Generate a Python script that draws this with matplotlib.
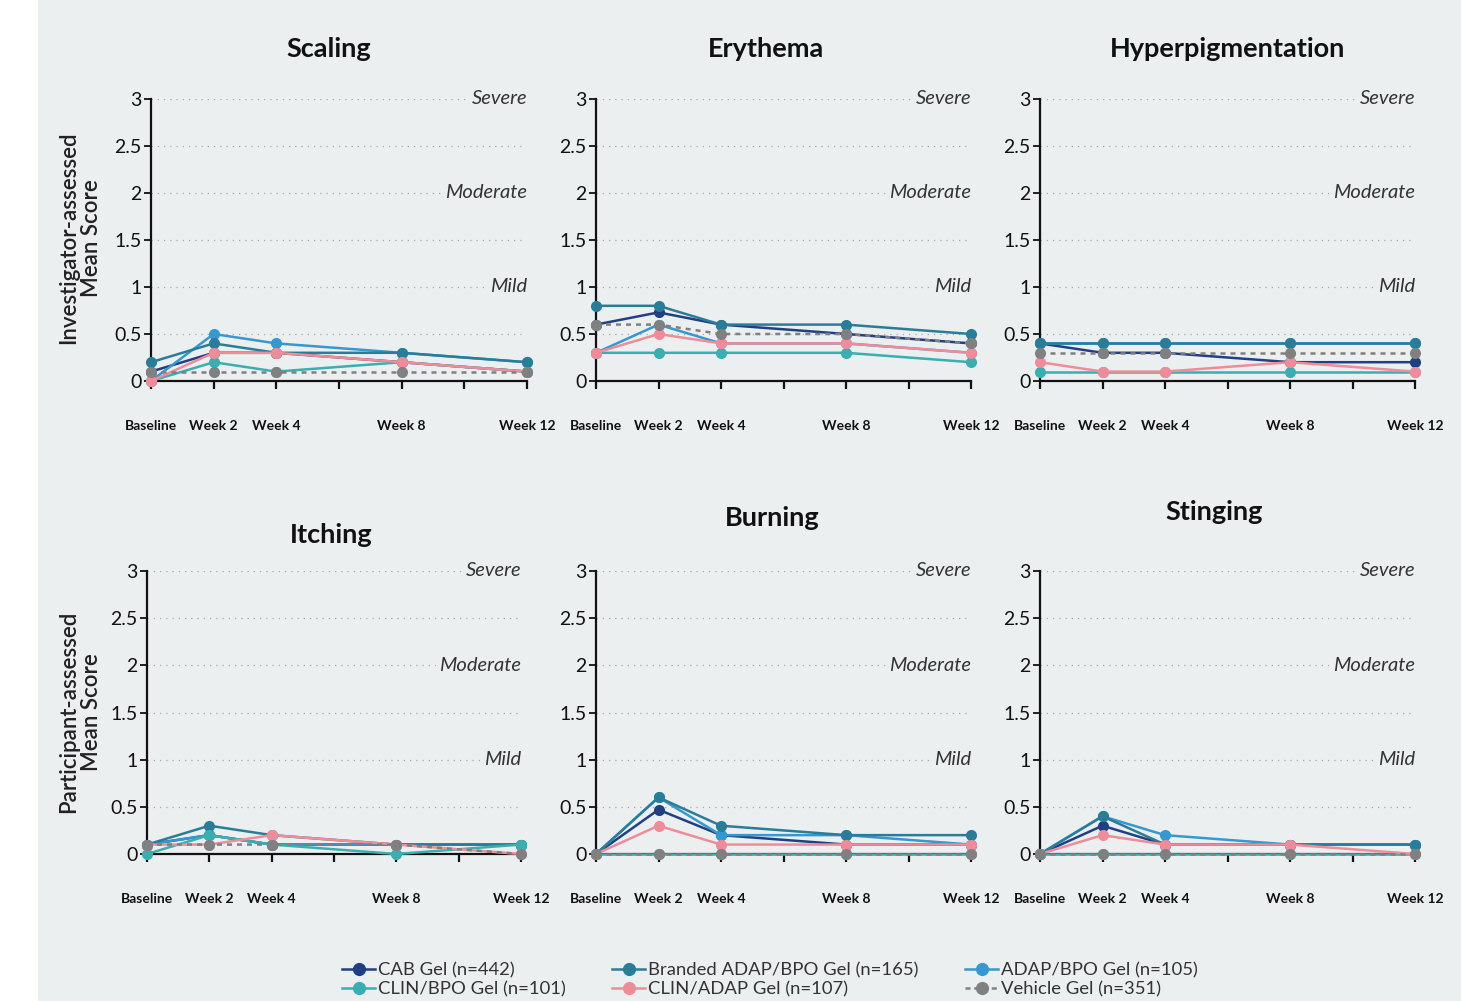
import matplotlib
matplotlib.use("Agg")
import matplotlib.pyplot as plt
from matplotlib.lines import Line2D
from matplotlib.patches import Rectangle

plt.rcParams['font.family'] = ['Lato', 'DejaVu Sans']

# visit weeks and their labels
weeks = [0, 2, 4, 8, 12]
week_labels = ['Baseline', 'Week 2', 'Week 4', 'Week 8', 'Week 12']

treatments = ['CAB Gel (n=442)', 'Branded ADAP/BPO Gel (n=165)', 'ADAP/BPO Gel (n=105)',
              'CLIN/BPO Gel (n=101)', 'CLIN/ADAP Gel (n=107)', 'Vehicle Gel (n=351)']
colors = ['#213f82', '#2a7d98', '#3598cf', '#3aaeb0', '#ef8c99', '#808080']

# mean scores per panel, one list per treatment (same order as treatments)
scaling = [[0.1, 0.3, 0.3, 0.2, 0.1],
           [0.2, 0.4, 0.3, 0.3, 0.2],
           [0.0, 0.5, 0.4, 0.3, 0.2],
           [0.0, 0.2, 0.1, 0.2, 0.1],
           [0.0, 0.3, 0.3, 0.2, 0.1],
           [0.1, 0.1, 0.1, 0.1, 0.1]]
erythema = [[0.6, 0.73, 0.6, 0.5, 0.4],
            [0.8, 0.8, 0.6, 0.6, 0.5],
            [0.3, 0.6, 0.4, 0.4, 0.3],
            [0.3, 0.3, 0.3, 0.3, 0.2],
            [0.3, 0.5, 0.4, 0.4, 0.3],
            [0.6, 0.6, 0.5, 0.5, 0.4]]
hyperpigmentation = [[0.4, 0.3, 0.3, 0.2, 0.2],
                     [0.4, 0.4, 0.4, 0.4, 0.4],
                     [0.4, 0.4, 0.4, 0.4, 0.4],
                     [0.1, 0.1, 0.1, 0.1, 0.1],
                     [0.2, 0.1, 0.1, 0.2, 0.1],
                     [0.3, 0.3, 0.3, 0.3, 0.3]]
itching = [[0.1, 0.2, 0.1, 0.1, 0.1],
           [0.1, 0.3, 0.2, 0.1, 0.1],
           [0.1, 0.2, 0.1, 0.1, 0.1],
           [0.0, 0.2, 0.1, 0.0, 0.1],
           [0.1, 0.1, 0.2, 0.1, 0.0],
           [0.1, 0.1, 0.1, 0.1, 0.0]]
burning = [[0.0, 0.47, 0.2, 0.1, 0.1],
           [0.0, 0.6, 0.3, 0.2, 0.2],
           [0.0, 0.6, 0.2, 0.2, 0.1],
           [0.0, 0.0, 0.0, 0.0, 0.0],
           [0.0, 0.3, 0.1, 0.1, 0.1],
           [0.0, 0.0, 0.0, 0.0, 0.0]]
stinging = [[0.0, 0.3, 0.1, 0.1, 0.1],
            [0.0, 0.4, 0.1, 0.1, 0.1],
            [0.0, 0.4, 0.2, 0.1, 0.1],
            [0.0, 0.0, 0.0, 0.0, 0.0],
            [0.0, 0.2, 0.1, 0.1, 0.0],
            [0.0, 0.0, 0.0, 0.0, 0.0]]

severity = {3: 'Severe', 2: 'Moderate', 1: 'Mild'}

BG = '#eceff0'
W, H = 1461, 1001

fig = plt.figure(figsize=(W / 100, H / 100), dpi=100)
fig.patches.append(Rectangle((38 / W, 0), 1 - 38 / W, 1, transform=fig.transFigure,
                             facecolor=BG, edgecolor='none', zorder=-10))

# panel: title, data, pixel box (x0, x12, y0, y3), title position (cx, cy)
panels = [
    ('Scaling', scaling, (151, 527, 381, 99), (329, 49)),
    ('Erythema', erythema, (596, 971, 381, 99), (766, 49)),
    ('Hyperpigmentation', hyperpigmentation, (1040, 1415, 381, 99), (1228, 49)),
    ('Itching', itching, (147, 521, 854, 571), (331, 535)),
    ('Burning', burning, (596, 971, 854, 571), (772, 518)),
    ('Stinging', stinging, (1040, 1415, 854, 571), (1214, 512)),
]

# drawing order so the right markers end up on top
draw_order = [0, 2, 1, 3, 4, 5]

for title, data, (x0, x1, y0, y3), (tx, ty) in panels:
    ax = fig.add_axes([x0 / W, (H - y0) / H, (x1 - x0) / W, (y0 - y3) / H])
    ax.set_facecolor('none')
    ax.set_xlim(0, 12)
    ax.set_ylim(0, 3)

    for lvl in [0.5, 1, 1.5, 2, 2.5, 3]:
        ax.plot([0, 11.9], [lvl, lvl], color='#a8a8a8', lw=0.9,
                linestyle=(0, (1, 4)), zorder=1)
    for lvl, name in severity.items():
        ax.text(12, lvl, name, ha='right', va='center', fontsize=14.5, style='italic',
                color='#333333', zorder=2,
                bbox=dict(facecolor=BG, edgecolor='none', pad=2))

    for k, i in enumerate(draw_order):
        ls = (0, (2, 2)) if i == 5 else '-'
        ax.plot(weeks, data[i], color=colors[i], lw=1.8, linestyle=ls,
                marker='o', markersize=8, markeredgewidth=0,
                clip_on=False, zorder=3 + k * 0.1)

    for side in ['top', 'right']:
        ax.spines[side].set_visible(False)
    for side in ['left', 'bottom']:
        ax.spines[side].set_linewidth(1.6)
        ax.spines[side].set_color('#111111')

    ax.set_yticks([0, 0.5, 1, 1.5, 2, 2.5, 3])
    ax.set_yticklabels(['0', '0.5', '1', '1.5', '2', '2.5', '3'])
    ax.tick_params(axis='y', length=5, width=1.3, labelsize=14, pad=2, colors='#111111')
    ax.set_xticks(weeks)
    ax.set_xticklabels(week_labels, fontweight='bold')
    ax.set_xticks([6, 10], minor=True)
    ax.tick_params(axis='x', which='both', length=6, width=1.6, colors='#111111')
    ax.tick_params(axis='x', labelsize=10, pad=22)

    fig.text(tx / W, 1 - ty / H, title, ha='center', va='center',
             fontsize=19.5, fontweight='bold', color='#111111')

fig.text(80 / W, 1 - 238 / H, 'Investigator-assessed\nMean Score', rotation=90,
         ha='center', va='center', fontsize=16, fontweight='semibold',
         color='#222222', linespacing=1.15)
fig.text(80 / W, 1 - 712 / H, 'Participant-assessed\nMean Score', rotation=90,
         ha='center', va='center', fontsize=16, fontweight='semibold',
         color='#222222', linespacing=1.15)

# legend, column-major so CAB / CLIN-BPO share the first column
legend_order = [0, 3, 1, 4, 2, 5]
handles = []
for i in legend_order:
    ls = (0, (2, 1.5)) if i == 5 else '-'
    handles.append(Line2D([], [], color=colors[i], lw=1.8, linestyle=ls,
                          marker='o', markersize=9.5, markeredgewidth=0))
fig.legend(handles, [treatments[i] for i in legend_order], ncol=3,
           loc='center', bbox_to_anchor=(770 / W, 1 - 980 / H), frameon=False,
           fontsize=13.3, handlelength=1.8, handletextpad=0.15,
           columnspacing=2.5, labelspacing=0.15, labelcolor='#333333')

fig.savefig('out.png', dpi=100, facecolor='white')
